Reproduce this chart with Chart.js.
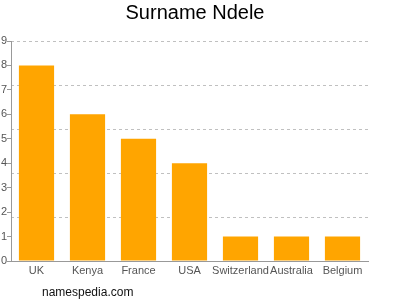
<!DOCTYPE html>
<html>
<head>
<meta charset="utf-8">
<script src="https://cdn.jsdelivr.net/npm/chart.js@4"></script>
<style>
  html, body { margin: 0; padding: 0; background: #fff; }
  #wrap { width: 400px; height: 300px; }
</style>
</head>
<body>
<div id="wrap"><canvas id="myChart" width="400" height="300"></canvas></div>
<script>
const countries = ['UK', 'Kenya', 'France', 'USA', 'Switzerland', 'Australia', 'Belgium'];
const counts = [8, 6, 5, 4, 1, 1, 1];
const yTicks = [0, 1, 2, 3, 4, 5, 6, 7, 8, 9];
const gridLines = [0, 1.8, 3.6, 5.4, 7.2, 9];

const FONT = "'Liberation Sans', Arial, sans-serif";

const watermark = {
    id: 'watermark',
    afterDraw(chart) {
        const ctx = chart.ctx;
        ctx.save();
        ctx.font = '12px ' + FONT;
        ctx.fillStyle = '#111';
        ctx.textBaseline = 'middle';
        ctx.textAlign = 'left';
        ctx.fillText('namespedia.com', 42, 293);
        ctx.restore();
    }
};

let ctx = document.getElementById('myChart').getContext('2d');
let myChart = new Chart(ctx, {
    type: 'bar',
    data: {
        labels: countries,
        datasets: [{
            data: counts,
            backgroundColor: '#FFA500',
            borderWidth: 0,
            barPercentage: 0.69,
            categoryPercentage: 1
        }]
    },
    options: {
        responsive: false,
        animation: false,
        layout: { padding: { left: 0, right: 10, top: 0, bottom: 0 } },
        plugins: {
            legend: { display: false },
            tooltip: { enabled: false },
            title: {
                display: true,
                text: 'Surname Ndele',
                color: '#000',
                font: { family: FONT, size: 20, weight: 'normal' },
                padding: { top: 1, bottom: 16 }
            }
        },
        scales: {
            x: {
                grid: { display: false, tickLength: 0 },
                border: { color: '#999', width: 1 },
                ticks: { color: '#555', font: { family: FONT, size: 11 }, padding: 3, maxRotation: 0, autoSkip: false },
                afterFit(scale) { scale.height = 39; }
            },
            y: {
                min: 0,
                max: 9,
                position: 'left',
                grid: { drawOnChartArea: false, drawTicks: true, tickLength: 4, color: '#999' },
                border: { color: '#999', width: 1 },
                ticks: { color: '#555', font: { family: FONT, size: 11 }, padding: 0 },
                afterBuildTicks(scale) { scale.ticks = yTicks.map(v => ({ value: v })); },
                afterFit(scale) { scale.width = 11; }
            },
            y2: {
                min: 0,
                max: 9,
                position: 'right',
                grid: { drawTicks: false, color: '#c0c0c0', lineWidth: 1 },
                border: { display: false, dash: [3, 3] },
                ticks: { display: false },
                afterBuildTicks(scale) { scale.ticks = gridLines.map(v => ({ value: v })); },
                afterFit(scale) { scale.width = 22; }
            }
        }
    },
    plugins: [watermark]
});
</script>
</body>
</html>
